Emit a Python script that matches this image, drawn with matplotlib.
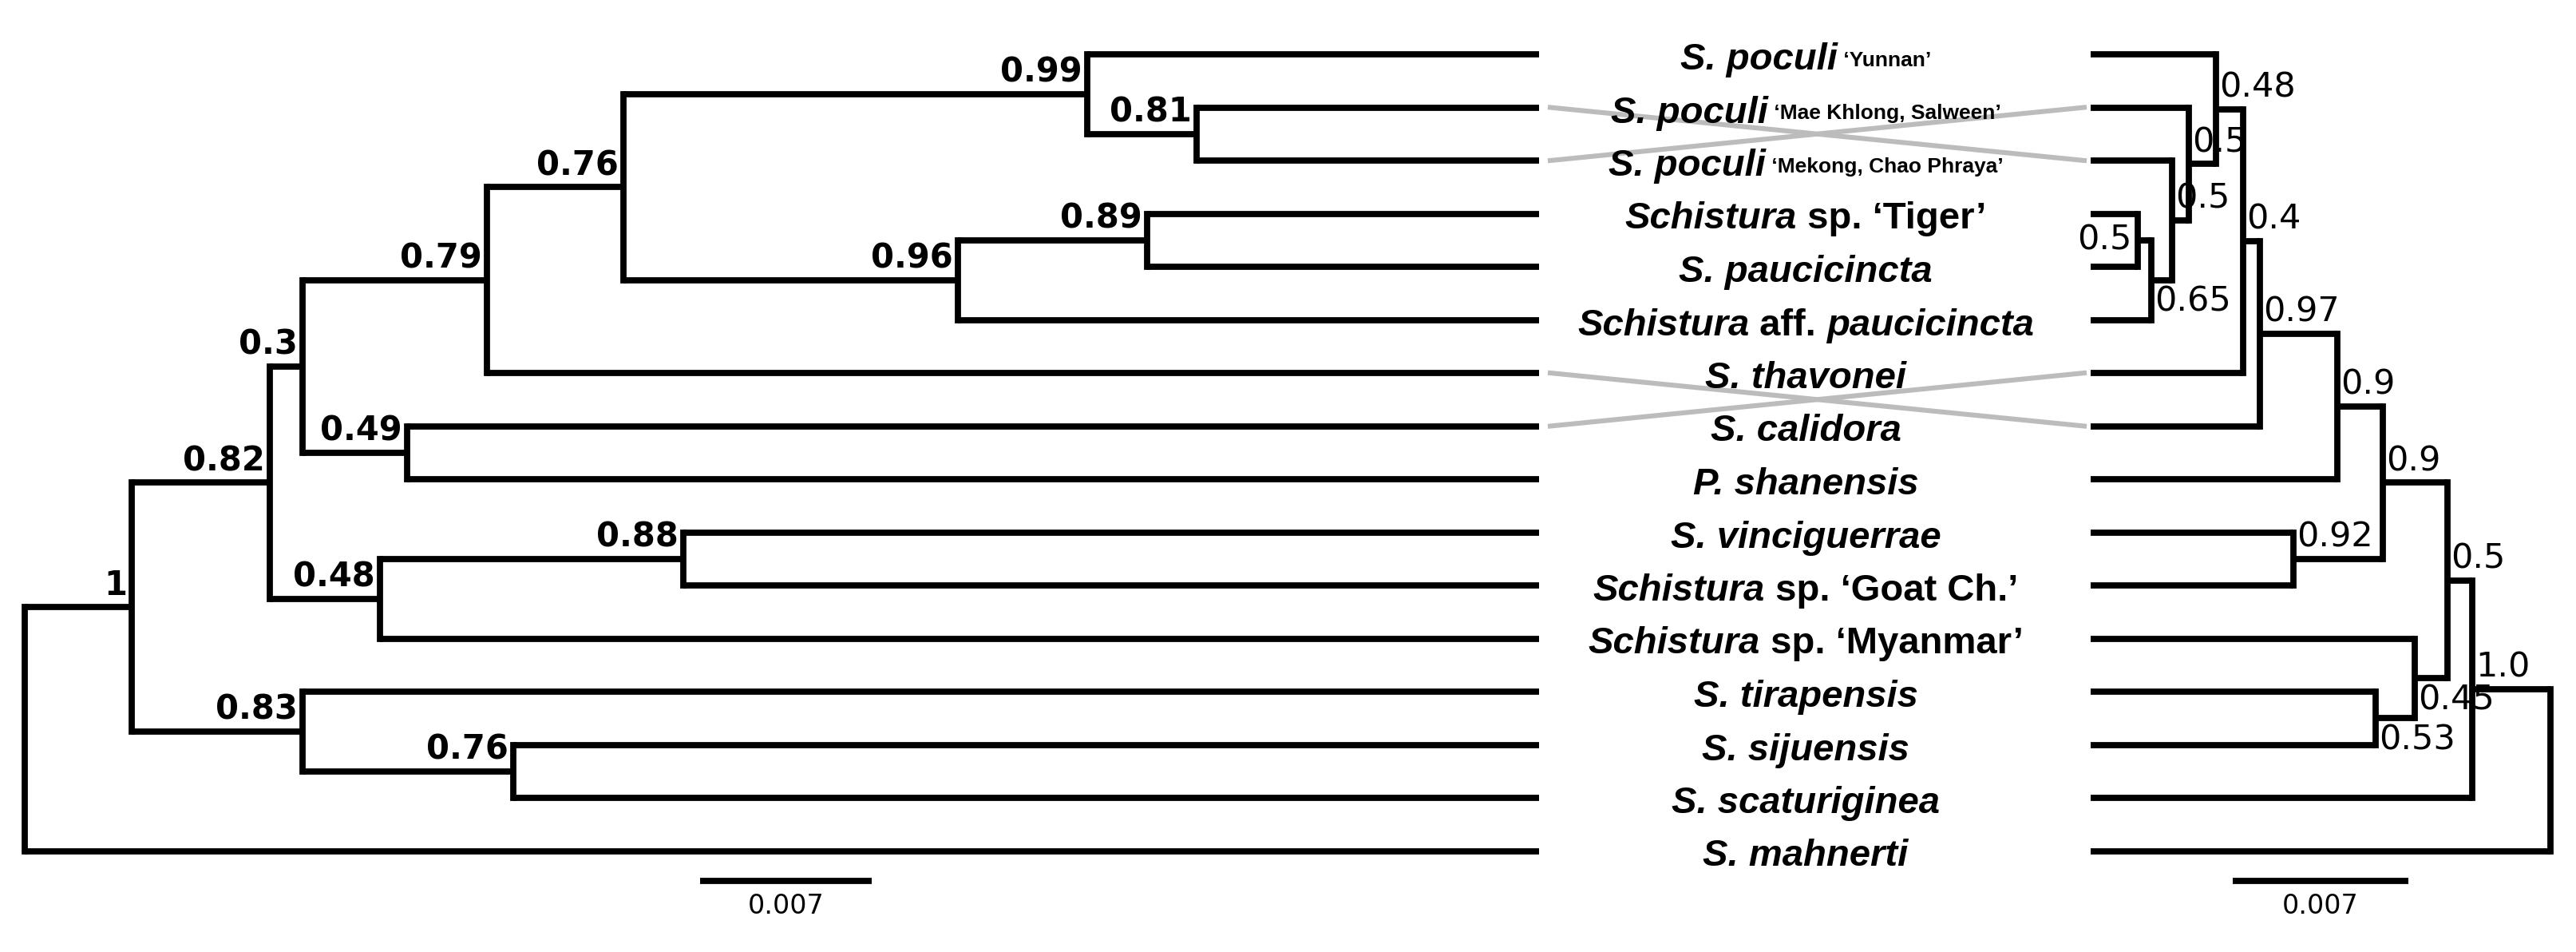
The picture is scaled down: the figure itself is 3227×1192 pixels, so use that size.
import matplotlib
matplotlib.use("Agg")
import matplotlib.pyplot as plt

# taxa in left-tree order (rows top to bottom)
taxa = [
    [("S. poculi", "bi"), (" \u2018Yunnan\u2019", "s")],
    [("S. poculi", "bi"), (" \u2018Mae Khlong, Salween\u2019", "s")],
    [("S. poculi", "bi"), (" \u2018Mekong, Chao Phraya\u2019", "s")],
    [("Schistura", "bi"), (" sp. \u2018Tiger\u2019", "b")],
    [("S. paucicincta", "bi")],
    [("Schistura", "bi"), (" aff. ", "b"), ("paucicincta", "bi")],
    [("S. thavonei", "bi")],
    [("S. calidora", "bi")],
    [("P. shanensis", "bi")],
    [("S. vinciguerrae", "bi")],
    [("Schistura", "bi"), (" sp. \u2018Goat Ch.\u2019", "b")],
    [("Schistura", "bi"), (" sp. \u2018Myanmar\u2019", "b")],
    [("S. tirapensis", "bi")],
    [("S. sijuensis", "bi")],
    [("S. scaturiginea", "bi")],
    [("S. mahnerti", "bi")],
]

# right tree: which left taxon sits on each right row
right_order = [0, 2, 1, 3, 4, 5, 7, 6, 8, 9, 10, 11, 12, 13, 14, 15]

# left tree nodes: name, child, child, depth (px), support
left_nodes = [
    ("a", 1, 2, 1499, "0.81"),
    ("b", 0, "a", 1362, "0.99"),
    ("c", 3, 4, 1437, "0.89"),
    ("d", "c", 5, 1200, "0.96"),
    ("e", "b", "d", 781, "0.76"),
    ("f", "e", 6, 610, "0.79"),
    ("g", 7, 8, 510, "0.49"),
    ("h", "f", "g", 379, "0.3"),
    ("i", 9, 10, 856, "0.88"),
    ("j", "i", 11, 476, "0.48"),
    ("k", "h", "j", 338, "0.82"),
    ("l", 13, 14, 643, "0.76"),
    ("m", 12, "l", 379, "0.83"),
    ("n", "k", "m", 165, "1"),
    ("root", "n", 15, 31, ""),
]

# right tree nodes (children are right rows): name, child, child, depth, support, label place
right_nodes = [
    ("A", 3, 4, 2678, "0.5", "left"),
    ("B", "A", 5, 2695, "0.65", "below"),
    ("C", "B", 2, 2721, "0.5", "above"),
    ("D", "C", 1, 2742, "0.5", "above"),
    ("E", "D", 0, 2776, "0.48", "above"),
    ("F", "E", 6, 2810, "0.4", "above"),
    ("G", "F", 7, 2831, "0.97", "above"),
    ("H", "G", 8, 2928, "0.9", "above"),
    ("I", 9, 10, 2873, "0.92", "above"),
    ("J", "H", "I", 2985, "0.9", "above"),
    ("K", 12, 13, 2976, "0.53", "below"),
    ("L", 11, "K", 3025, "0.45", "below"),
    ("M", "J", "L", 3066, "0.5", "above"),
    ("N", "M", 14, 3097, "1.0", "above"),
    ("O", "N", 15, 3195, "", "above"),
]

W, H = 3227, 1192
row0, step = 68, 66.5
left_tip = 1928
right_tip = 2619
label_x = 2262
LW = 5.6
num_font = ["Liberation Sans Narrow", "DejaVu Sans"]

fig = plt.figure(figsize=(W / 100, H / 100), dpi=100, facecolor="white")
ax = fig.add_axes([0, 0, 1, 1])
ax.set_xlim(0, W)
ax.set_ylim(H, 0)
ax.axis("off")


def row_y(i):
    return row0 + i * step


def draw_tree(nodes, tip_x, side):
    ys, xs = {}, {}
    for nd in nodes:
        name, c1, c2, x = nd[0], nd[1], nd[2], nd[3]
        cy = []
        for c in (c1, c2):
            if isinstance(c, int):
                y = row_y(c)
                ax.plot([x, tip_x], [y, y], color="black", lw=LW, solid_capstyle="butt")
            else:
                y = ys[c]
                ax.plot([x, xs[c]], [y, y], color="black", lw=LW, solid_capstyle="butt")
            cy.append(y)
        ax.plot([x, x], [min(cy), max(cy)], color="black", lw=LW, solid_capstyle="projecting")
        ys[name] = (cy[0] + cy[1]) / 2
        xs[name] = x
        lab = nd[4]
        if not lab:
            continue
        if side == "left":
            ax.text(x - 6, ys[name] - 6, lab, ha="right", va="bottom", fontsize=30,
                    fontweight="bold", family=num_font)
        else:
            place = nd[5]
            if place == "left":
                ax.text(x - 8, ys[name], lab, ha="right", va="center", fontsize=31, family=num_font)
            elif place == "below":
                ax.text(x + 4, ys[name] + 6, lab, ha="left", va="top", fontsize=31, family=num_font)
            else:
                ax.text(x + 4, ys[name] - 6, lab, ha="left", va="bottom", fontsize=31, family=num_font)
    return ys, xs


draw_tree(left_nodes, left_tip, "left")
draw_tree(right_nodes, right_tip, "right")

# connecting lines for taxa whose rows differ
for r, li in enumerate(right_order):
    if r != li:
        ax.plot([1942, 2611], [row_y(li), row_y(r)], color="#bcbcbc", lw=4.4, zorder=1)

# taxon labels, pieces measured then centred
styles = {
    "bi": dict(fontsize=34, fontweight="bold", fontstyle="italic"),
    "b": dict(fontsize=34, fontweight="bold"),
    "s": dict(fontsize=19, fontweight="bold"),
}
renderer = fig.canvas.get_renderer()
for i, pieces in enumerate(taxa):
    y = row_y(i) + 2
    objs = []
    total = 0
    for txt, st in pieces:
        t = ax.text(0, y, txt, ha="left", va="center_baseline" if st != "s" else "baseline",
                    family=["Liberation Sans", "DejaVu Sans"], zorder=3, **styles[st])
        w = t.get_window_extent(renderer).width
        objs.append((t, w, st))
        total += w
    x = label_x - total / 2
    for t, w, st in objs:
        if st == "s":
            t.set_y(y + 13)
        t.set_x(x)
        x += w

# scale bars
for x0, x1 in [(877, 1092), (2797, 3017)]:
    ax.plot([x0, x1], [1103, 1103], color="black", lw=LW, solid_capstyle="butt")
    ax.text((x0 + x1) / 2, 1118, "0.007", ha="center", va="top", fontsize=24, family=num_font)

fig.savefig("out.png", dpi=100, facecolor="white")
